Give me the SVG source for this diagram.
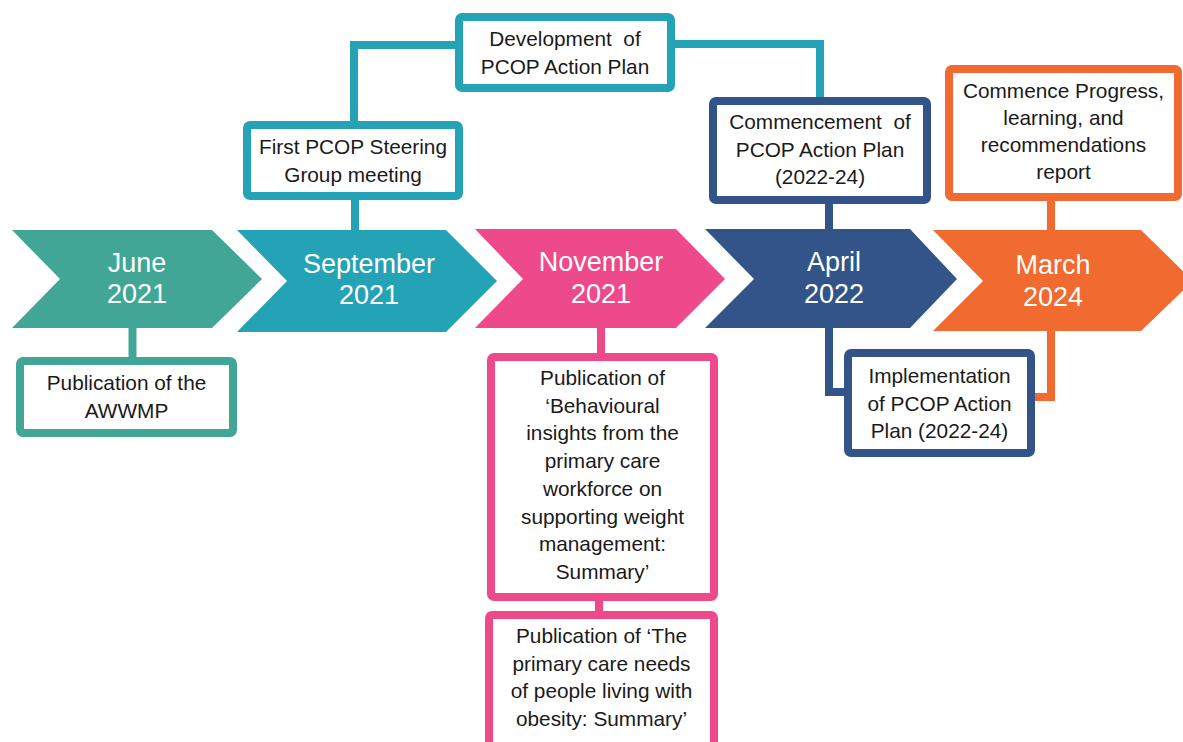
<svg xmlns="http://www.w3.org/2000/svg" width="1183" height="742" viewBox="0 0 1183 742">
  <style>
    .lbl { font-family: "Liberation Sans", Arial, sans-serif; font-size: 20.8px; fill: #1a1a1a; text-anchor: middle; white-space: pre; }
    .date { font-family: "Liberation Sans", Arial, sans-serif; font-size: 27px; fill: #ffffff; text-anchor: middle; }
    .box { fill: #ffffff; stroke-width: 8; }
    .wire { fill: none; stroke-width: 8; stroke-linejoin: miter; }
    .teal { stroke: #41A696; }
    .cyan { stroke: #25A3B6; }
    .pink { stroke: #EE4A8B; }
    .navy { stroke: #325488; }
    .orange { stroke: #F16A2F; }
  </style>

  <!-- connectors -->
  <g id="connectors">
    <line class="wire teal" x1="132.5" y1="326" x2="132.5" y2="360"/>
    <line class="wire cyan" x1="355" y1="196" x2="355" y2="232"/>
    <polyline class="wire cyan" points="354,124 354,45 458,45"/>
    <polyline class="wire cyan" points="672,44 820,44 820,100"/>
    <line class="wire navy" x1="829" y1="200" x2="829" y2="231"/>
    <polyline class="wire navy" points="829,326 829,392 848,392"/>
    <line class="wire pink" x1="601" y1="326" x2="601" y2="356"/>
    <line class="wire pink" x1="599" y1="598" x2="599" y2="615"/>
    <line class="wire orange" x1="1051" y1="197" x2="1051" y2="232"/>
    <polyline class="wire orange" points="1051,329 1051,397 1031,397"/>
  </g>

  <!-- timeline chevrons -->
  <g id="june-2021">
    <polygon points="12,230 212,230 262,279 212,328 12,328 60,279" fill="#41A696"/>
    <text class="date" x="137" y="272">June</text>
    <text class="date" x="137" y="303">2021</text>
  </g>
  <g id="september-2021">
    <polygon points="237,230 446,230 497,281 446,332 237,332 287,281" fill="#25A3B6"/>
    <text class="date" x="369" y="273">September</text>
    <text class="date" x="369" y="304">2021</text>
  </g>
  <g id="november-2021">
    <polygon points="475,229 676,229 725,279 676,328 475,328 523,279" fill="#EE4A8B"/>
    <text class="date" x="601" y="271">November</text>
    <text class="date" x="601" y="303">2021</text>
  </g>
  <g id="april-2022">
    <polygon points="705,229 910,229 957,279 910,328 705,328 754,279" fill="#325488"/>
    <text class="date" x="834" y="271">April</text>
    <text class="date" x="834" y="303">2022</text>
  </g>
  <g id="march-2024">
    <polygon points="933,230 1141,230 1193,281 1141,331 933,331 983,281" fill="#F16A2F"/>
    <text class="date" x="1053" y="274">March</text>
    <text class="date" x="1053" y="306">2024</text>
  </g>

  <!-- event boxes -->
  <g id="awwmp">
    <rect class="box teal" x="20" y="361" width="213" height="72" rx="3"/>
    <text class="lbl" x="126.5" y="390">Publication of the</text>
    <text class="lbl" x="126.5" y="418">AWWMP</text>
  </g>
  <g id="steering-group">
    <rect class="box cyan" x="247" y="125" width="212" height="71" rx="3"/>
    <text class="lbl" x="353" y="154">First PCOP Steering</text>
    <text class="lbl" x="353" y="182">Group meeting</text>
  </g>
  <g id="development">
    <rect class="box cyan" x="459" y="17" width="212" height="71" rx="3"/>
    <text class="lbl" x="565" y="46">Development  of</text>
    <text class="lbl" x="565" y="74">PCOP Action Plan</text>
  </g>
  <g id="behavioural-insights">
    <rect class="box pink" x="491" y="357" width="223" height="240" rx="3"/>
    <text class="lbl" x="602.5" y="385">Publication of</text>
    <text class="lbl" x="602.5" y="413">‘Behavioural</text>
    <text class="lbl" x="602.5" y="440">insights from the</text>
    <text class="lbl" x="602.5" y="468">primary care</text>
    <text class="lbl" x="602.5" y="496">workforce on</text>
    <text class="lbl" x="602.5" y="524">supporting weight</text>
    <text class="lbl" x="602.5" y="551">management:</text>
    <text class="lbl" x="602.5" y="579">Summary’</text>
  </g>
  <g id="care-needs">
    <rect class="box pink" x="489" y="615" width="225" height="140" rx="3"/>
    <text class="lbl" x="601.5" y="643">Publication of ‘The</text>
    <text class="lbl" x="601.5" y="671">primary care needs</text>
    <text class="lbl" x="601.5" y="698">of people living with</text>
    <text class="lbl" x="601.5" y="726">obesity: Summary’</text>
  </g>
  <g id="commencement">
    <rect class="box navy" x="713" y="101" width="214" height="99" rx="3"/>
    <text class="lbl" x="820" y="129">Commencement  of</text>
    <text class="lbl" x="820" y="157">PCOP Action Plan</text>
    <text class="lbl" x="820" y="184">(2022-24)</text>
  </g>
  <g id="implementation">
    <rect class="box navy" x="848" y="353" width="183" height="100" rx="3"/>
    <text class="lbl" x="939.5" y="383">Implementation</text>
    <text class="lbl" x="939.5" y="411">of PCOP Action</text>
    <text class="lbl" x="939.5" y="438">Plan (2022-24)</text>
  </g>
  <g id="progress-report">
    <rect class="box orange" x="949" y="69" width="229" height="128" rx="3"/>
    <text class="lbl" x="1063.5" y="98">Commence Progress,</text>
    <text class="lbl" x="1063.5" y="125">learning, and</text>
    <text class="lbl" x="1063.5" y="152">recommendations</text>
    <text class="lbl" x="1063.5" y="179">report</text>
  </g>
</svg>
